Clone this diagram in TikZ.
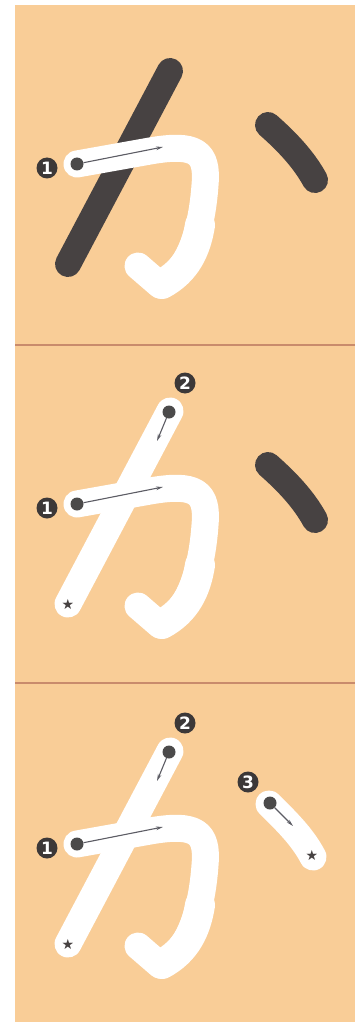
\documentclass[tikz,border=0pt]{standalone}
\usepackage{fontspec}
\newfontfamily\glyphfont{DejaVu Sans}
\usetikzlibrary{arrows.meta}
\definecolor{paper}{HTML}{F9CD97}
\definecolor{rulebrown}{HTML}{C98B6C}
\definecolor{ink}{HTML}{474242}
\definecolor{dotgray}{HTML}{4B4A4A}
\definecolor{arrgray}{HTML}{5C5C64}
\tikzset{
  inkstroke/.style={line width=26pt, line cap=round, line join=round, draw=ink},
  whitestroke/.style={line width=27pt, line cap=round, line join=round, draw=white},
  startdot/.style={circle, fill=dotgray, minimum size=13pt, inner sep=0pt},
  numlabel/.style={circle, fill=ink!85!black, minimum size=21pt, inner sep=0pt, text=white,
                   font=\glyphfont\bfseries\fontsize{17}{17}\selectfont},
  guide/.style={-{Stealth[length=7pt, width=3.6pt]}, line width=1.1pt, draw=arrgray},
  endstar/.style={font=\glyphfont\fontsize{14}{14}\selectfont, text=ink, inner sep=0pt},
  divider/.style={line width=1.8pt, draw=rulebrown},
}
\begin{document}
\begin{tikzpicture}[x=1pt, y=-1pt]
  \useasboundingbox (0,0) rectangle (358,1024);
  \fill[white] (0,0) rectangle (358,1024);
  \fill[paper] (15,5) rectangle (355,1022);
  \draw[divider] (15,345) -- (355,345);
  \draw[divider] (15,683) -- (355,683);

  % panel 1: first stroke
  \draw[inkstroke] (170,71) -- (68,264);
  \draw[inkstroke] (268,125) .. controls (285,140) and (303,158) .. (315,180);
  \draw[whitestroke] (77,164) -- (150,151) .. controls (196,143) and (208,152) .. (205,185)
    .. controls (202,228) and (190,272) .. (160,285) -- (138,266);
  \draw[whitestroke, line width=30pt] (200,225) .. controls (196,250) and (186,271) .. (162,284);
  \node[startdot] (dotA1) at (77,164) {};
  \coordinate (tipA1) at (163,147);
  \draw[guide] (dotA1) -- (tipA1);
  \node[numlabel] (numA1) at (47,168) {1};

  % panel 2: second stroke
  \begin{scope}[shift={(0,340)}]
    \draw[whitestroke] (170,71) -- (68,264);
    \draw[whitestroke] (77,164) -- (150,151) .. controls (196,143) and (208,152) .. (205,185)
      .. controls (202,228) and (190,272) .. (160,285) -- (138,266);
    \draw[whitestroke, line width=30pt] (200,225) .. controls (196,250) and (186,271) .. (162,284);
    \draw[inkstroke] (268,125) .. controls (285,140) and (303,158) .. (315,180);
    \node[startdot] (dotB1) at (77,164) {};
    \coordinate (tipB1) at (163,147);
    \draw[guide] (dotB1) -- (tipB1);
    \node[startdot] (dotB2) at (169,72) {};
    \coordinate (tipB2) at (157,101);
    \draw[guide] (dotB2) -- (tipB2);
    \node[endstar] (starB2) at (68,264) {★};
    \node[numlabel] (numB1) at (47,168) {1};
    \node[numlabel] (numB2) at (185,43) {2};
  \end{scope}

  % panel 3: third stroke
  \begin{scope}[shift={(0,680)}]
    \draw[whitestroke] (170,71) -- (68,264);
    \draw[whitestroke] (77,164) -- (150,151) .. controls (196,143) and (208,152) .. (205,185)
      .. controls (202,228) and (190,272) .. (160,285) -- (138,266);
    \draw[whitestroke, line width=30pt] (200,225) .. controls (196,250) and (186,271) .. (162,284);
    \draw[whitestroke] (269,124) .. controls (285,140) and (302,156) .. (313,177);
    \node[startdot] (dotC1) at (77,164) {};
    \coordinate (tipC1) at (163,147);
    \draw[guide] (dotC1) -- (tipC1);
    \node[startdot] (dotC2) at (169,72) {};
    \coordinate (tipC2) at (157,101);
    \draw[guide] (dotC2) -- (tipC2);
    \node[startdot] (dotC3) at (270,123) {};
    \coordinate (tipC3) at (293,146);
    \draw[guide] (dotC3) -- (tipC3);
    \node[endstar] (starC2) at (68,264) {★};
    \node[endstar] (starC3) at (312,175) {★};
    \node[numlabel] (numC1) at (47,168) {1};
    \node[numlabel] (numC2) at (185,43) {2};
    \node[numlabel] (numC3) at (248,102) {3};
  \end{scope}
\end{tikzpicture}
\end{document}
